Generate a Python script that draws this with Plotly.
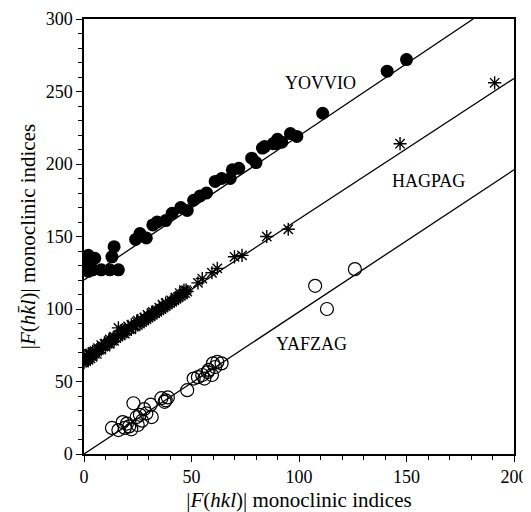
import plotly.graph_objects as go

# YOVVIO (filled circles)
yov_x = [1,2,3,4,2,5,8,12,16,13,14,24,26,29,32,34,38,41,45,48,51,54,57,61,64,68,69,72,78,80,83,84,88,89,90,92,96,99,111,141,150]
yov_y = [133,137,130,127,126,135,127,127,127,136,143,148,152,149,158,160,161,166,170,168,175,178,180,188,190,190,196,197,204,201,211,212,214,214,217,215,221,219,235,264,272]

# HAGPAG (asterisks)
hag_x = [0,0,0.5,1,1,1.5,2,2,3,3,4,4,5,5,6,6,7,8,8,9,10,10,11,12,12,13,14,14,15,16,16,17,18,19,19,20,21,22,22,23,24,25,25,26,27,28,28,29,30,31,32,32,33,34,35,35,36,37,38,38,39,40,41,42,43,44,45,46,47,48,53,55,59.5,62,70,73.5,85,95,147,191,
         2.5,6.5,9.5,13.5,17.5,20.5,24.5,29.5,33.5,36.5,40.5,44.5,46.5,3.5,11.5,18.5,26.5,31.5,42.5,47.5]
hag_y = [63,67,65,64,68,66,65,69,66,69,67,70,69,71,69,72,72,72,75,74,74,76,76,76,79,78,78,81,80,81,87,82,83,83,86,85,86,86,89,88,88,89,92,90,91,92,94,93,94,95,96,98,97,98,99,101,100,101,102,104,103,104,105,106,107,108,109,110,111,112,118,121,125,128,136,137,150,155,214,256,
         69,73,76,80,85,88,91,96,99,103,106,111,113,68,78,85,93,97,108,113]

# YAFZAG (open circles)
yaf_x = [13,16,18,21,23,24.5,27,29,31,31.5,36,37.5,39,48,51,53,55,57.5,59.5,60,62,64,107.5,113,126,20,22,25,26,19,28,38,56,58,61]
yaf_y = [18,16.5,22,19,35,25.5,23,28,34,25.5,38.5,36,39,44,52,53,54.5,56.5,54.5,62.5,63.5,62.5,116,100,127.5,21,17,20,27,18,31,37,52,58,60]

# fitted lines (end points)
yov_fit_x = [0, 181]
yov_fit_y = [120, 300]
hag_fit_x = [0, 200]
hag_fit_y = [65, 259]
yaf_fit_x = [0, 200]
yaf_fit_y = [0, 196]

labels = ["YOVVIO", "HAGPAG", "YAFZAG"]
label_x = [110, 160, 106]
label_y = [256, 188, 76]

FONT = "Liberation Serif"

fig = go.Figure()
for fx, fy in [(yov_fit_x, yov_fit_y), (hag_fit_x, hag_fit_y), (yaf_fit_x, yaf_fit_y)]:
    fig.add_trace(go.Scatter(x=fx, y=fy, mode="lines",
                             line=dict(color="black", width=1.3), showlegend=False))

fig.add_trace(go.Scatter(x=yov_x, y=yov_y, mode="markers",
                         marker=dict(symbol="circle", size=13, color="black"),
                         showlegend=False))
fig.add_trace(go.Scatter(x=hag_x, y=hag_y, mode="markers",
                         marker=dict(symbol="asterisk-open", size=11, color="black",
                                     line=dict(color="black", width=1.4)),
                         showlegend=False))
fig.add_trace(go.Scatter(x=yaf_x, y=yaf_y, mode="markers",
                         marker=dict(symbol="circle-open", size=13, color="black",
                                     line=dict(color="black", width=1.2)),
                         showlegend=False))

for t, x, y in zip(labels, label_x, label_y):
    fig.add_annotation(x=x, y=y, text=t, showarrow=False,
                       font=dict(family=FONT, size=18, color="black"))

axis_common = dict(
    showgrid=False, zeroline=False, showline=True, linecolor="black", linewidth=1.5,
    mirror=True, ticks="outside", ticklen=6, tickwidth=1, tickcolor="black",
    automargin=False,
    tickfont=dict(family=FONT, size=18, color="black"),
    minor=dict(ticks="outside", ticklen=4, tickwidth=1, tickcolor="black", dtick=10),
)

fig.update_xaxes(range=[0, 200], dtick=50, **axis_common,
                 title=dict(text="|<i>F</i>(<i>hkl</i>)| monoclinic indices",
                            font=dict(family=FONT, size=21, color="black"), standoff=6))
fig.update_yaxes(range=[0, 300], dtick=50, **axis_common,
                 title=dict(text="|<i>F</i>(<i>hk\u0304l</i>)| monoclinic indices",
                            font=dict(family=FONT, size=21, color="black"), standoff=4))

# the page body adds an 8px offset, so the figure is sized to compensate
fig.update_layout(width=523, height=504, margin=dict(l=76, r=17, t=11, b=58),
                  plot_bgcolor="white", paper_bgcolor="white")

fig.write_html("out.html")
